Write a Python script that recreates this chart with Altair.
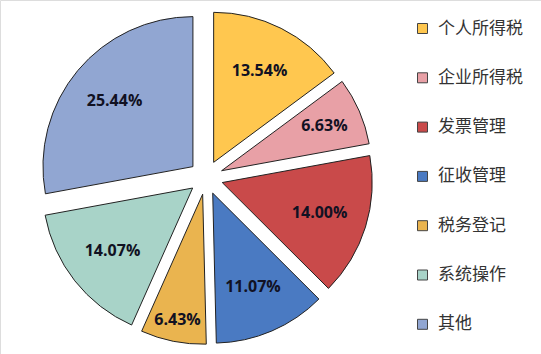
import altair as alt
import pandas as pd

categories = ["个人所得税", "企业所得税", "发票管理", "征收管理", "税务登记", "系统操作", "其他"]
values = [13.54, 6.63, 14.00, 11.07, 6.43, 14.07, 25.44]
labels = ["13.54%", "6.63%", "14.00%", "11.07%", "6.43%", "14.07%", "25.44%"]
colors = ["#FFC74F", "#E8A0A6", "#C94A4A", "#4A7AC2", "#EAB44F", "#A8D3C8", "#91A6D2"]

df = pd.DataFrame({"cat": categories, "v": values, "lab": labels, "order": list(range(len(values)))})

CX, CY, R, D = 206, 177.5, 150, 17

base = alt.Chart(df).transform_joinaggregate(
    total="sum(v)"
).transform_window(
    cum="sum(v)", sort=[alt.SortField("order")], frame=[None, 0]
).transform_calculate(
    t0="2*PI*(datum.cum - datum.v)/datum.total",
    t1="2*PI*datum.cum/datum.total",
).transform_calculate(
    mid="(datum.t0 + datum.t1)/2",
).transform_calculate(
    ax=f"{CX} + {D}*sin(datum.mid)",
    ay=f"{CY} - {D}*cos(datum.mid)",
    lr="datum.v < 7 ? (datum.mid > PI ? 128 : 112) : 102",
).transform_calculate(
    tx=f"datum.ax + datum.lr*sin(datum.mid)",
    ty=f"datum.ay - datum.lr*cos(datum.mid)",
)

color_scale = alt.Scale(domain=categories, range=colors)

arcs = base.mark_arc(outerRadius=R, stroke="#222222", strokeWidth=1).encode(
    x=alt.X("ax:Q", scale=None, axis=None),
    y=alt.Y("ay:Q", scale=None, axis=None),
    theta=alt.Theta("t0:Q", scale=None),
    theta2="t1:Q",
    color=alt.Color(
        "cat:N",
        scale=color_scale,
        sort=categories,
        legend=alt.Legend(
            title=None,
            orient="none",
            legendX=414,
            legendY=20,
            symbolType="square",
            symbolSize=100,
            symbolStrokeColor="#444444",
            symbolStrokeWidth=1,
            symbolOpacity=1,
            labelFont="Noto Sans CJK SC",
            labelFontSize=17,
            labelColor="#333333",
            labelOffset=7,
            rowPadding=31.3,
        ),
    ),
)

texts = base.mark_text(
    font="Open Sans", fontWeight="bold", fontSize=16, color="#111122"
).encode(
    x=alt.X("tx:Q", scale=None, axis=None),
    y=alt.Y("ty:Q", scale=None, axis=None),
    text="lab:N",
)

chart = alt.layer(arcs, texts).properties(
    width=541, height=354, autosize="none", padding=0
).configure_view(stroke=None).configure(background="white")

chart.save("out.html", embed_options={"renderer": "svg", "actions": False})
